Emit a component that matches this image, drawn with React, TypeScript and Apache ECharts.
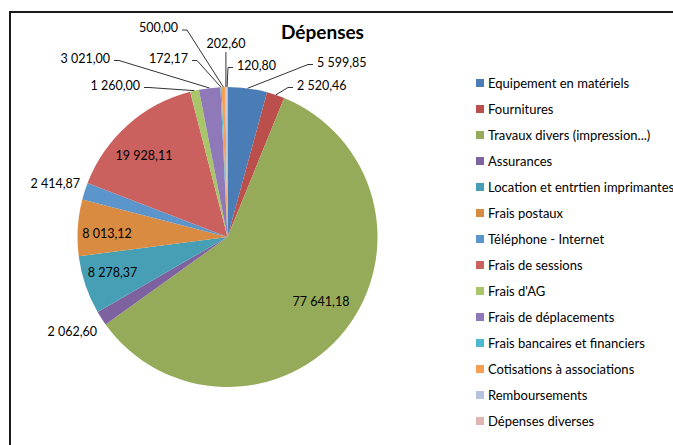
import { useEffect, useRef } from 'react';
import * as echarts from 'echarts';

const title = 'Dépenses';

const categories = [
  'Equipement en matériels',
  'Fournitures',
  'Travaux divers (impression...)',
  'Assurances',
  'Location et entrtien imprimantes',
  'Frais postaux',
  'Téléphone - Internet',
  'Frais de sessions',
  "Frais d'AG",
  'Frais de déplacements',
  'Frais bancaires et financiers',
  'Cotisations à associations',
  'Remboursements',
  'Dépenses diverses',
];

const values = [
  5599.85, 2520.46, 77641.18, 2062.6, 8278.37, 8013.12, 2414.87,
  19928.11, 1260.0, 3021.0, 172.17, 500.0, 202.6, 120.8,
];

const colors = [
  '#4A7DB6', '#BA4F4C', '#95AB5A', '#7E629F', '#479FB6', '#D98B42', '#5B95CB',
  '#CA615E', '#A8C56A', '#9079B8', '#4CB9CF', '#F59F55', '#B6C3DF', '#E0B6B4',
];

type Align = 'left' | 'right' | 'center';
type Place = { x: number; y: number; align: Align; inside?: boolean; line?: 'h' | 'v' | 'none' };

// label placement (index aligned with categories)
const labelPlacement: Place[] = [
  { x: 317, y: 62, align: 'left', line: 'h' },
  { x: 297, y: 85, align: 'left', line: 'h' },
  { x: 321, y: 301, align: 'center', inside: true },
  { x: 97, y: 331, align: 'right', line: 'none' },
  { x: 112.5, y: 272.5, align: 'center', inside: true },
  { x: 107, y: 233, align: 'center', inside: true },
  { x: 80, y: 183, align: 'right', line: 'none' },
  { x: 144, y: 155, align: 'center', inside: true },
  { x: 140, y: 85, align: 'right', line: 'h' },
  { x: 110, y: 58, align: 'right', line: 'h' },
  { x: 188, y: 58, align: 'right', line: 'h' },
  { x: 178, y: 27.5, align: 'right', line: 'h' },
  { x: 226, y: 43, align: 'center', line: 'v' },
  { x: 237, y: 65, align: 'left', line: 'h' },
];

const fmt = (v: number) => {
  const [i, d] = v.toFixed(2).split('.');
  return i.replace(/\B(?=(\d{3})+(?!\d))/g, ' ') + ',' + d;
};

export default function App() {
  const ref = useRef<HTMLDivElement>(null);
  useEffect(() => {
    if (!ref.current) return;
    const chart = echarts.init(ref.current, undefined, { renderer: 'svg' });
    const font = 'Lato';
    chart.setOption({
      animation: false,
      color: colors,
      textStyle: { fontFamily: font },
      title: {
        text: title,
        left: 281,
        top: 22,
        padding: 0,
        textStyle: { fontFamily: font, fontSize: 19, fontWeight: 'bold', color: '#000' },
      },
      legend: {
        orient: 'vertical',
        left: 476,
        top: 76,
        padding: 0,
        itemWidth: 8,
        itemHeight: 8,
        itemGap: 12,
        icon: 'rect',
        textStyle: { fontFamily: font, fontSize: 13, lineHeight: 14, color: '#000', padding: [0, 0, 0, -1] },
        data: categories,
      },
      graphic: [
        { type: 'line', shape: { x1: 10, y1: 12, x2: 10, y2: 445 }, style: { stroke: '#1a1a1a', lineWidth: 2 } },
        { type: 'line', shape: { x1: 9, y1: 12, x2: 673, y2: 12 }, style: { stroke: '#1a1a1a', lineWidth: 2 } },
      ],
      series: [
        {
          type: 'pie',
          center: [227.5, 237],
          radius: 150,
          startAngle: 90,
          clockwise: true,
          avoidLabelOverlap: false,
          itemStyle: { borderWidth: 0 },
          emphasis: { disabled: true },
          label: {
            show: true,
            position: 'outside',
            fontFamily: font,
            fontSize: 12.5,
            color: '#000',
            formatter: (p: any) => fmt(p.value),
          },
          labelLine: { show: true, length: 10, length2: 10, lineStyle: { color: '#333', width: 1 } },
          data: categories.map((name, i) => ({
            name,
            value: values[i],
            labelLine: { show: labelPlacement[i].line === 'h' || labelPlacement[i].line === 'v' },
          })),
          labelLayout: (params: any) => {
            const p = labelPlacement[params.dataIndex];
            const out: any = { x: p.x, y: p.y, align: p.align, verticalAlign: 'middle' };
            const pts = params.labelLinePoints;
            if (pts && pts.length && p.line) {
              const s = pts[0];
              const ly = p.y + 2.5;
              if (p.line === 'h') {
                if (p.align === 'left') out.labelLinePoints = [s, [p.x - 9, ly], [p.x - 4, ly]];
                else out.labelLinePoints = [s, [p.x + 9, ly], [p.x + 4, ly]];
              } else if (p.line === 'v') {
                out.labelLinePoints = [s, [s[0], p.y + 9]];
              }
            }
            return out;
          },
        },
      ],
    });
    return () => chart.dispose();
  }, []);
  return (
    <div
      ref={ref}
      style={{ position: 'fixed', left: 0, top: 0, width: 673, height: 445, background: '#fff' }}
    />
  );
}
